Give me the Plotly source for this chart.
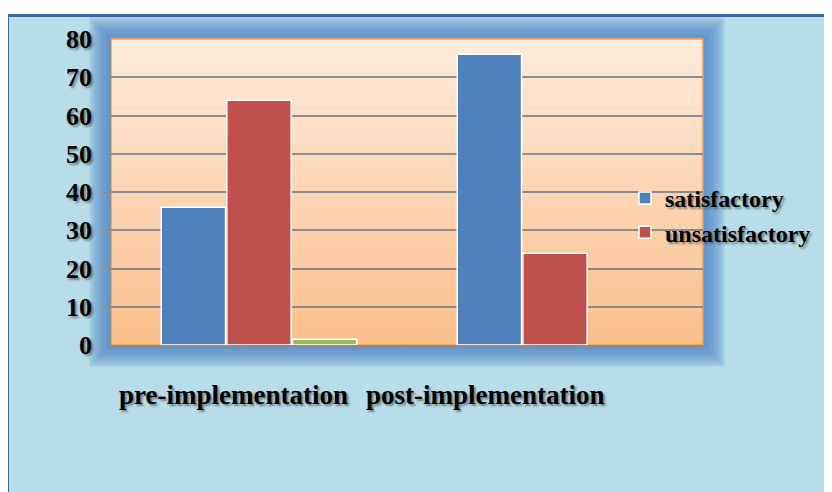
import plotly.graph_objects as go

categories = ["pre-implementation", "post-implementation"]
satisfactory = [36, 76]
unsatisfactory = [64, 24]
other = [1.5, 0]
y_ticks = [0, 10, 20, 30, 40, 50, 60, 70, 80]

W, H = 832, 492
OFF = 8  # page body margin
# plot area in window pixels: x 111..703, y 39..345
L, R, T, B = 111 - OFF, 129 + OFF, 39 - OFF, 147 + OFF
pw, ph = W - L - R, H - T - B

def px(x):  # window px -> paper
    return (x - OFF - L) / pw

def py(y):
    return (H - B - (y - OFF)) / ph

serif = "Liberation Serif"
shadow = "2px 2px 2px rgba(60,60,60,0.55)"

def outline(vals):
    return [1.5 if v > 0 else 0 for v in vals]

fig = go.Figure()
fig.add_trace(go.Bar(name="satisfactory", x=categories, y=satisfactory,
                     marker=dict(color="#4f81bd", line=dict(color="white", width=outline(satisfactory)))))
fig.add_trace(go.Bar(name="unsatisfactory", x=categories, y=unsatisfactory,
                     marker=dict(color="#c0504d", line=dict(color="white", width=outline(unsatisfactory)))))
fig.add_trace(go.Bar(name="", x=categories, y=other, showlegend=False,
                     marker=dict(color="#9bbb59", line=dict(color="white", width=outline(other)))))

shapes = []
shapes.append(dict(type="rect", xref="paper", yref="paper", layer="below",
                   x0=px(7.5), x1=px(W + 20), y0=py(H + 20), y1=py(15.5),
                   fillcolor="#b7dde8", line=dict(color="#3b659c", width=3)))
n = 10
for i in range(n):
    d = 22 - i * 2
    shapes.append(dict(type="rect", xref="paper", yref="paper", layer="below",
                       x0=px(111 - d), x1=px(703 + d), y0=py(345 + d), y1=py(39 - d),
                       fillcolor="rgba(80,135,200,0.14)", line=dict(width=0)))
top = (253, 235, 220)
bot = (251, 192, 140)
nb = 40
for i in range(nb):
    t = i / (nb - 1)
    c = tuple(round(top[k] + (bot[k] - top[k]) * t) for k in range(3))
    shapes.append(dict(type="rect", xref="paper", yref="paper", layer="below",
                       x0=0, x1=1, y0=1 - (i + 1) / nb, y1=1 - i / nb + 0.002,
                       fillcolor="rgb(%d,%d,%d)" % c, line=dict(width=0)))
shapes.append(dict(type="rect", xref="paper", yref="paper", layer="below",
                   x0=0, x1=1, y0=0, y1=1, fillcolor="rgba(0,0,0,0)",
                   line=dict(color="#f79646", width=1.5)))

label_shift = [-26, -70]
annotations = []
for cat, s in zip(categories, label_shift):
    annotations.append(dict(x=cat, xref="x", y=py(395), yref="paper", text=cat,
                            showarrow=False, xshift=s, yanchor="middle",
                            font=dict(family=serif, size=27, color="black",
                                      weight="bold", shadow=shadow)))

fig.update_layout(
    width=W, height=H,
    margin=dict(l=L, r=R, t=T, b=B),
    paper_bgcolor="white",
    plot_bgcolor="rgba(0,0,0,0)",
    barmode="group",
    bargap=0.335,
    bargroupgap=0.02,
    shapes=shapes,
    annotations=annotations,
    showlegend=True,
    legend=dict(x=px(625), y=py(176), xanchor="left", yanchor="top",
                bgcolor="rgba(0,0,0,0)", tracegroupgap=0, itemwidth=30,
                font=dict(family=serif, size=24, color="black", weight="bold", shadow=shadow)),
    xaxis=dict(showgrid=False, showline=True, linecolor="#8c8c8c", linewidth=1.5,
               ticks="outside", tickson="boundaries", ticklen=6, tickcolor="#8c8c8c",
               showticklabels=False, zeroline=False),
    yaxis=dict(range=[0, 80], tickvals=y_ticks, showgrid=True, gridcolor="#8c8c8c",
               gridwidth=1.5, showline=True, linecolor="#8c8c8c", linewidth=1.5,
               ticks="outside", ticklen=7, tickcolor="#8c8c8c", zeroline=False,
               ticklabelstandoff=5,
               tickfont=dict(family=serif, size=26, color="black", weight="bold", shadow=shadow)),
)

fig.write_html("out.html")
